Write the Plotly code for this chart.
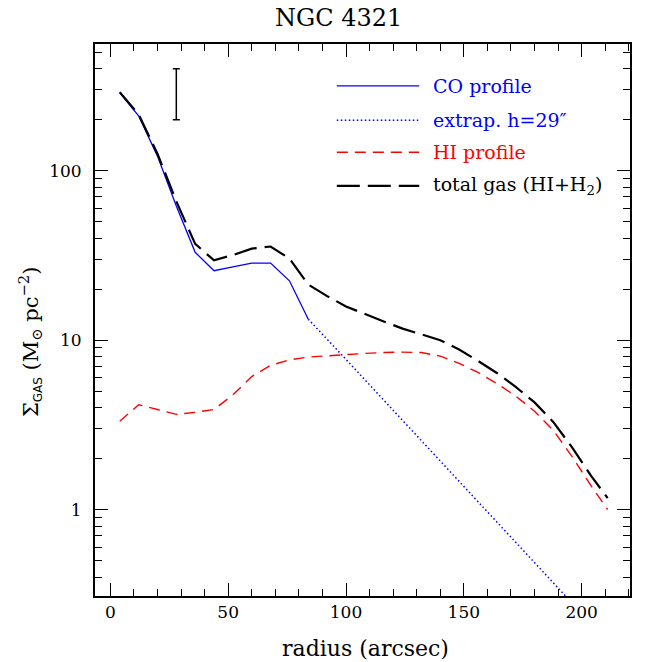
import math
import plotly.graph_objects as go

# ---------------- data ----------------
co_r = [4, 12, 20, 28, 36, 44, 52, 60, 68, 76, 84]
co_sigma = [288, 211, 122, 62, 33, 25.7, 27.1, 28.5, 28.5, 22.4, 13.3]

extrap_r = [84, 100, 150, 195]
extrap_sigma = [13.3, 7.7, 1.37, 0.29]

hi_r = [4, 12, 20, 28, 36, 44, 52, 60, 68, 76, 84, 92, 100, 108, 116, 124,
        132, 140, 148, 156, 164, 172, 180, 188, 196, 204, 211]
hi_sigma = [3.32, 4.16, 3.9, 3.65, 3.75, 3.9, 4.75, 6.1, 7.1, 7.65, 7.95, 8.1,
            8.2, 8.35, 8.45, 8.5, 8.45, 8.05, 7.3, 6.45, 5.55, 4.68, 3.81,
            2.93, 2.05, 1.38, 1.0]

tot_r = hi_r
tot_sigma = [291, 215, 126, 66, 37, 29.6, 31.8, 34.7, 35.7, 30.3, 21.3, 18.2,
             15.8, 14.2, 12.9, 11.7, 10.8, 10.0, 8.8, 7.55, 6.4, 5.3, 4.29,
             3.28, 2.32, 1.58, 1.17]

errbar_r = [28]
errbar_lo = [200]
errbar_hi = [400]

x_ticks = [0, 50, 100, 150, 200]
x_minor = [v for v in range(-10, 230, 10) if v % 50 != 0]
y_ticks = [1, 10, 100]
y_ticklabels = ["1", "10", "100"]
y_minor = [0.3, 0.4, 0.5, 0.6, 0.7, 0.8, 0.9,
           2, 3, 4, 5, 6, 7, 8, 9,
           20, 30, 40, 50, 60, 70, 80, 90,
           200, 300, 400, 500]

legend_labels = ["CO profile", "extrap. h=29\u2033", "HI profile",
                 "total gas (HI+H<sub>2</sub>)"]

# ---------------- figure ----------------
FONT = "DejaVu Serif"
BLUE = "#0000ff"
RED = "#ff0000"
BLACK = "#000000"

# page body has an 8px margin; the figure is sized/placed to compensate
W, H = 642, 654
L, R, T, B = 87, 20, 36, 66
PW = W - L - R
PH = H - T - B

fig = go.Figure()

fig.add_trace(go.Scatter(x=co_r, y=co_sigma, mode="lines",
                         line=dict(color=BLUE, width=1.3), showlegend=False))
fig.add_trace(go.Scatter(x=extrap_r, y=extrap_sigma, mode="lines",
                         line=dict(color=BLUE, width=1.5, dash="1.5px,2.5px"),
                         showlegend=False))
fig.add_trace(go.Scatter(x=hi_r, y=hi_sigma, mode="lines",
                         line=dict(color=RED, width=1.4, dash="11px,7px"),
                         showlegend=False))
fig.add_trace(go.Scatter(x=tot_r, y=tot_sigma, mode="lines",
                         line=dict(color=BLACK, width=2.2, dash="23px,8px"),
                         showlegend=False))

# error bar
err_mid = [math.sqrt(a * b) for a, b in zip(errbar_lo, errbar_hi)]
fig.add_trace(go.Scatter(
    x=errbar_r, y=err_mid, mode="markers",
    marker=dict(size=1, color="rgba(0,0,0,0)"),
    error_y=dict(type="data", symmetric=False,
                 array=[h - m for h, m in zip(errbar_hi, err_mid)],
                 arrayminus=[m - l for l, m in zip(errbar_lo, err_mid)],
                 color=BLACK, thickness=1.5, width=3.5),
    showlegend=False))

# manual legend (paper coordinates)
leg_rows = [0.924, 0.862, 0.804, 0.743]
leg_styles = [(BLUE, 1.3, "solid"), (BLUE, 1.5, "1.5px,2.5px"),
              (RED, 1.4, "11px,7px"), (BLACK, 2.2, "23px,8px")]
leg_colors = [BLUE, BLUE, RED, BLACK]
for yy, (c, w, d), lab, tc in zip(leg_rows, leg_styles, legend_labels, leg_colors):
    fig.add_shape(type="line", xref="paper", yref="paper",
                  x0=0.452, x1=0.606, y0=yy, y1=yy,
                  line=dict(color=c, width=w, dash=d))
    fig.add_annotation(xref="paper", yref="paper", x=0.628, y=yy,
                       text=lab, showarrow=False, xanchor="left",
                       yanchor="middle",
                       font=dict(family=FONT, size=19, color=tc))

# titles as annotations
fig.add_annotation(xref="paper", yref="paper", x=(338 - 95) / PW, y=1.0,
                   yshift=26, text="NGC 4321", showarrow=False,
                   xanchor="center", yanchor="middle", height=20,
                   borderpad=0, valign="middle",
                   font=dict(family=FONT, size=24, color=BLACK))
fig.add_annotation(xref="paper", yref="paper", x=0.505, y=0.0, yshift=-52,
                   text="radius (arcsec)", showarrow=False,
                   xanchor="center", yanchor="middle",
                   font=dict(family=FONT, size=22, color=BLACK))
fig.add_annotation(xref="paper", yref="paper", x=(30 - 95) / PW, y=0.46,
                   text="\u03a3<sub><span style='font-family:DejaVu Sans;font-size:12px'>GAS</span></sub> "
                        "(M<sub>\u2299</sub> pc<sup>\u22122</sup>)",
                   showarrow=False, textangle=-90,
                   xanchor="center", yanchor="middle",
                   font=dict(family=FONT, size=21, color=BLACK))

fig.update_layout(
    width=W, height=H,
    margin=dict(l=L, r=R, t=T, b=B, autoexpand=False),
    plot_bgcolor="white", paper_bgcolor="white",
    font=dict(family=FONT, color=BLACK, size=17),
    showlegend=False,
)

fig.update_xaxes(
    range=[-6.5, 220.5], showgrid=False, zeroline=False,
    showline=True, linecolor=BLACK, linewidth=2, mirror="allticks",
    ticks="inside", ticklen=13, tickwidth=1.3, tickcolor=BLACK,
    tickvals=x_ticks, ticktext=[str(v) for v in x_ticks],
    tickfont=dict(family=FONT, size=17, color=BLACK),
    minor=dict(tickvals=x_minor, ticks="inside", ticklen=7, tickwidth=1.2,
               tickcolor=BLACK, showgrid=False),
)
fig.update_yaxes(
    type="log", range=[-0.51, 2.748], showgrid=False, zeroline=False,
    showline=True, linecolor=BLACK, linewidth=2, mirror="allticks",
    ticks="inside", ticklen=13, tickwidth=1.3, tickcolor=BLACK,
    tickvals=y_ticks, ticktext=y_ticklabels, ticklabelstandoff=8,
    tickfont=dict(family=FONT, size=17, color=BLACK),
    minor=dict(tickvals=y_minor, ticks="inside", ticklen=7, tickwidth=1.2,
               tickcolor=BLACK, showgrid=False),
)

fig.write_html("out.html")
